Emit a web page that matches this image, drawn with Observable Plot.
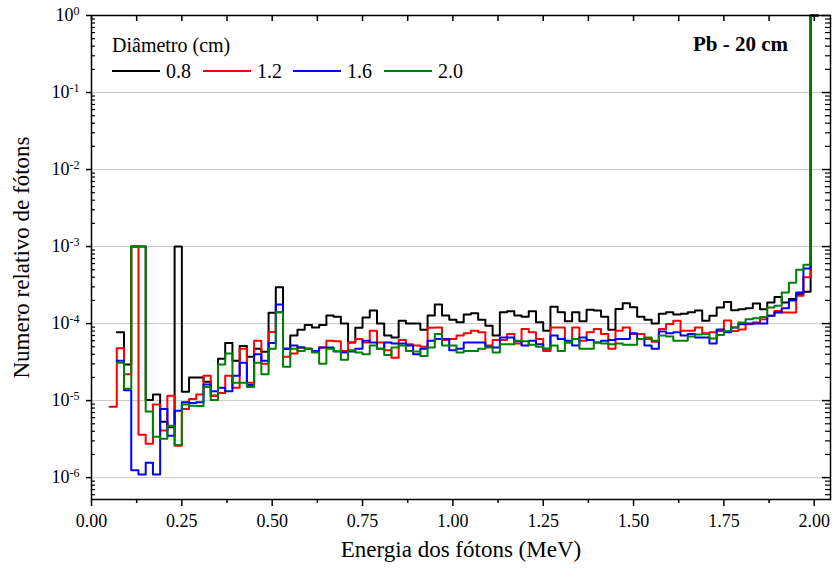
<!DOCTYPE html>
<html><head><meta charset="utf-8">
<script src="https://cdn.jsdelivr.net/npm/d3@7"></script>
<script src="https://cdn.jsdelivr.net/npm/@observablehq/plot@0.6"></script>
<style>body{margin:0;background:#fff}#chart svg{display:block}#chart svg text{font-family:'Liberation Serif','Times New Roman',serif}</style>
</head><body><div id="chart"></div>
<script>
// Bin centres (MeV), bin width 0.02 MeV
const energy = [
0.06,0.08,0.10,0.12,0.14,0.16,0.18,0.20,0.22,0.24,
0.26,0.28,0.30,0.32,0.34,0.36,0.38,0.40,0.42,0.44,
0.46,0.48,0.50,0.52,0.54,0.56,0.58,0.60,0.62,0.64,
0.66,0.68,0.70,0.72,0.74,0.76,0.78,0.80,0.82,0.84,
0.86,0.88,0.90,0.92,0.94,0.96,0.98,1.00,1.02,1.04,
1.06,1.08,1.10,1.12,1.14,1.16,1.18,1.20,1.22,1.24,
1.26,1.28,1.30,1.32,1.34,1.36,1.38,1.40,1.42,1.44,
1.46,1.48,1.50,1.52,1.54,1.56,1.58,1.60,1.62,1.64,
1.66,1.68,1.70,1.72,1.74,1.76,1.78,1.80,1.82,1.84,
1.86,1.88,1.90,1.92,1.94,1.96,1.98,2.00];
const binWidth = 0.02;

const d08 = [
null,7.7e-5,2.95e-5,1e-3,1e-3,1.02e-5,1.2e-5,5.3e-6,4.5e-6,1e-3,
1.3e-5,2.0e-5,2.0e-5,1.76e-5,1.16e-5,3.5e-5,5.6e-5,3.3e-5,5.1e-5,3.7e-5,
4.7e-5,4.3e-5,1.38e-4,2.96e-4,4.7e-5,7.0e-5,8.3e-5,9.6e-5,8.9e-5,9.6e-5,
1.27e-4,1.23e-4,1.0e-4,5.7e-5,8.8e-5,1.2e-4,1.48e-4,1.0e-4,7.0e-5,6.6e-5,
1.09e-4,1.0e-4,1.0e-4,8.3e-5,1.27e-4,1.77e-4,1.27e-4,1.12e-4,1.04e-4,1.31e-4,
1.36e-4,1.12e-4,9.4e-5,7.0e-5,1.4e-4,1.45e-4,1.27e-4,1.23e-4,1.45e-4,1.04e-4,
8.1e-5,1.65e-4,1.40e-4,1.07e-4,1.40e-4,1.07e-4,1.51e-4,1.48e-4,1.23e-4,8.3e-5,
1.55e-4,1.84e-4,1.63e-4,1.23e-4,1.12e-4,1.0e-4,1.34e-4,1.40e-4,1.31e-4,1.34e-4,
1.40e-4,1.48e-4,1.09e-4,1.26e-4,1.62e-4,1.91e-4,1.49e-4,1.54e-4,1.58e-4,1.82e-4,
1.54e-4,1.88e-4,2.22e-4,1.88e-4,2.08e-4,2.41e-4,2.59e-4,1];

const d12 = [
8.3e-6,4.8e-5,2.2e-5,1e-3,3.6e-6,2.75e-6,8.9e-6,4.1e-6,1.16e-5,2.6e-6,
7.8e-6,1.05e-5,1.2e-5,2.1e-5,1.16e-5,1.26e-5,2.1e-5,1.47e-5,4.7e-5,1.7e-5,
6.0e-5,3.0e-5,7.8e-5,1.4e-4,3.7e-5,4.1e-5,4.9e-5,4.7e-5,4.4e-5,4.9e-5,
6.0e-5,5.9e-5,4.4e-5,5.7e-5,6.3e-5,5.7e-5,8.1e-5,5.7e-5,4.5e-5,3.6e-5,
6.1e-5,5.4e-5,5.2e-5,5.0e-5,8.8e-5,8.9e-5,6.1e-5,6.3e-5,7.0e-5,7.5e-5,
8.1e-5,7.7e-5,5.2e-5,6.1e-5,6.1e-5,7.3e-5,5.5e-5,8.5e-5,7.7e-5,6.3e-5,
4.4e-5,8.9e-5,8.9e-5,5.7e-5,8.9e-5,6.0e-5,7.7e-5,8.5e-5,7.3e-5,4.7e-5,
8.1e-5,8.9e-5,7.3e-5,7.3e-5,6.3e-5,5.8e-5,8.5e-5,9.9e-5,1.09e-4,8.1e-5,
8.1e-5,8.9e-5,7.5e-5,7.7e-5,8.0e-5,1.1e-4,8.0e-5,8.4e-5,9.8e-5,1.03e-4,
1.14e-4,1.26e-4,1.46e-4,1.39e-4,1.39e-4,2.3e-4,4.0e-4,1];

const d16 = [
null,3.3e-5,1.36e-5,1.25e-6,1.1e-6,1.56e-6,1.1e-6,7.8e-6,3.5e-6,7.4e-6,
9.5e-6,9.3e-6,9.5e-6,1.62e-5,1.32e-5,1.47e-5,1.32e-5,2.1e-5,3.1e-5,1.6e-5,
4.0e-5,3.3e-5,5.6e-5,1.77e-4,4.7e-5,5.2e-5,4.9e-5,4.7e-5,4.4e-5,4.9e-5,
4.9e-5,4.35e-5,4.2e-5,4.35e-5,4.7e-5,6.0e-5,5.7e-5,4.7e-5,5.7e-5,5.5e-5,
5.5e-5,5.2e-5,4.0e-5,4.7e-5,6.0e-5,6.3e-5,6.3e-5,4.5e-5,4.7e-5,5.7e-5,
5.7e-5,5.7e-5,5.0e-5,4.9e-5,6.6e-5,6.6e-5,5.9e-5,5.2e-5,6.0e-5,5.4e-5,
4.7e-5,7.0e-5,6.3e-5,6.0e-5,5.2e-5,6.6e-5,6.1e-5,5.7e-5,6.0e-5,6.1e-5,
6.3e-5,6.3e-5,7.5e-5,6.3e-5,5.2e-5,4.7e-5,7.9e-5,7.5e-5,7.7e-5,7.0e-5,
7.3e-5,6.6e-5,6.6e-5,5.5e-5,8.4e-5,7.7e-5,8.9e-5,9.8e-5,1.0e-4,1.0e-4,
1.0e-4,1.26e-4,1.39e-4,1.58e-4,2.0e-4,2.54e-4,5.2e-4,1];

const d20 = [
null,3.1e-5,1.43e-5,1e-3,1e-3,7.2e-6,3.4e-6,3.2e-6,4.7e-6,2.65e-6,
8.9e-6,8.6e-6,8.5e-6,1.5e-5,1.02e-5,2.95e-5,4.1e-5,1.7e-5,1.7e-5,1.5e-5,
3.1e-5,2.2e-5,4.7e-5,1.4e-4,2.75e-5,4.7e-5,4.4e-5,4.7e-5,4.2e-5,3.0e-5,
4.7e-5,4.4e-5,3.4e-5,4.5e-5,4.2e-5,4.0e-5,5.2e-5,4.7e-5,3.9e-5,4.9e-5,
5.2e-5,4.4e-5,4.35e-5,3.8e-5,4.9e-5,7.3e-5,5.2e-5,5.2e-5,4.2e-5,4.4e-5,
4.4e-5,4.7e-5,4.9e-5,4.2e-5,5.4e-5,5.4e-5,6.0e-5,5.9e-5,5.3e-5,5.0e-5,
4.7e-5,5.2e-5,4.4e-5,5.7e-5,6.3e-5,4.7e-5,4.7e-5,5.7e-5,5.5e-5,5.4e-5,
5.5e-5,5.3e-5,5.3e-5,6.3e-5,6.6e-5,6.0e-5,7.0e-5,6.8e-5,6.0e-5,6.0e-5,
6.8e-5,7.2e-5,7.3e-5,6.4e-5,7.1e-5,8.0e-5,8.9e-5,1.03e-4,1.14e-4,1.17e-4,
1.22e-4,1.62e-4,1.7e-4,2.54e-4,3.4e-4,5.0e-4,5.8e-4,1];

const seriesNames = ["0.8","1.2","1.6","2.0"];
const seriesColors = ["#000000","#ff0000","#0000ff","#008000"];
const seriesData = [d08,d12,d16,d20];

const xMajorTicks = [0,0.25,0.5,0.75,1.0,1.25,1.5,1.75,2.0];
const xMinorTicks = [0.125,0.375,0.625,0.875,1.125,1.375,1.625,1.875];
const yMajorTicks = [1e-6,1e-5,1e-4,1e-3,1e-2,1e-1,1];
const yGrid = [1e-6,1e-5,1e-4,1e-3,1e-2,1e-1];
const yMinorTicks = [];
for (let e = -7; e < 0; e++) for (let m = 2; m <= 9; m++) { const v = m * Math.pow(10, e); if (v >= 5.2e-7 && v < 1) yMinorTicks.push(v); }

const xTitle = "Energia dos fótons (MeV)";
const yTitle = "Numero relativo de fótons";
const legendTitle = "Diâmetro (cm)";
const panelTitle = "Pb - 20 cm";

// step rows: left bin edges + closing right edge
function stepRows(arr) {
  const rows = []; let last = -1;
  arr.forEach((v, i) => { if (v == null) return; rows.push({x: energy[i] - binWidth / 2, v}); last = i; });
  rows.push({x: energy[last] + binWidth / 2, v: arr[last]});
  return rows;
}

const W = 833, H = 570, mL = 91, mR = 3, mT = 15, mB = 71;
const plotW = W - mL - mR, plotH = H - mT - mB;
const font = "Liberation Serif";

const lineMarks = seriesData.map((arr, i) =>
  Plot.line(stepRows(arr), {x: "x", y: "v", curve: "step-after", stroke: seriesColors[i], strokeWidth: 2}));

const plot = Plot.plot({
  width: W, height: H, marginLeft: mL, marginRight: mR, marginTop: mT, marginBottom: mB,
  style: {fontFamily: font, fontSize: "18px", color: "#000", background: "#fff"},
  x: {domain: [0, 2.045]},
  y: {type: "log", domain: [5.2e-7, 1]},
  marks: [
    Plot.ruleY(yGrid, {stroke: "#c8c8c8", strokeWidth: 1}),
    ...lineMarks,
    Plot.frame({stroke: "#000", strokeWidth: 1.5}),
    Plot.axisX({ticks: xMajorTicks, tickSize: 7, tickPadding: 8, tickFormat: d3.format(".2f"), label: null, fontSize: 18, fontFamily: font, strokeWidth: 1.5}),
    Plot.axisX({ticks: xMinorTicks, tickSize: 4, tickFormat: () => "", label: null, strokeWidth: 1.5}),
    Plot.tickX([...xMajorTicks, ...xMinorTicks], {x: d => d, insetBottom: plotH - 6, stroke: "#000", strokeWidth: 1.5}),
    Plot.axisY({ticks: yMajorTicks, tickSize: 5, tickPadding: 7, tickFormat: d => String(Math.round(Math.log10(d))), label: null, fontSize: 18, fontFamily: font, strokeWidth: 1.5}),
    Plot.tickY(yMinorTicks, {y: d => d, insetRight: plotW - 4, stroke: "#000", strokeWidth: 1.2}),
    Plot.tickY(yMajorTicks, {y: d => d, insetLeft: plotW - 8, stroke: "#000", strokeWidth: 1.5}),
    Plot.tickY(yMinorTicks, {y: d => d, insetLeft: plotW - 5, stroke: "#000", strokeWidth: 1.2}),
    Plot.text([xTitle], {frameAnchor: "bottom", dy: 57, fontSize: 23, fontFamily: font, textAnchor: "middle"}),
    Plot.text([yTitle], {frameAnchor: "left", dx: -70, rotate: -90, fontSize: 23, fontFamily: font, textAnchor: "middle"})
  ]
});

const svg = d3.select(plot);
// superscript exponents on y tick labels
svg.selectAll('g[aria-label="y-axis tick label"] text').each(function () {
  const t = d3.select(this); const e = t.text();
  t.text("10");
  t.append("tspan").attr("dy", "-0.55em").attr("font-size", "12px").text(e);
});

// legend
const lg = svg.append("g").attr("text-anchor", "start").style("font-family", font).style("font-size", "20px").attr("fill", "#000");
lg.append("text").attr("x", 112).attr("y", 52).text(legendTitle);
const lx = [112, 203, 293, 384];
seriesNames.forEach((n, i) => {
  lg.append("line").attr("x1", lx[i]).attr("x2", lx[i] + 48).attr("y1", 71).attr("y2", 71)
    .attr("stroke", seriesColors[i]).attr("stroke-width", 2);
  lg.append("text").attr("x", lx[i] + 54).attr("y", 78).text(n);
});
svg.append("text").attr("x", 788).attr("y", 51).attr("text-anchor", "end")
  .style("font-family", font).style("font-weight", "bold").style("font-size", "21px").text(panelTitle);

document.getElementById("chart").appendChild(plot);
</script>
</body></html>
